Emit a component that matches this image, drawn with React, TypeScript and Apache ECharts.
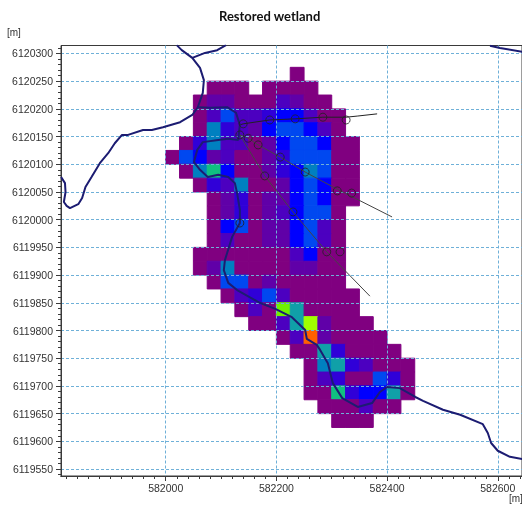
import React, { useEffect, useRef } from "react";
import * as echarts from "echarts";

const titleText = "Restored wetland";
const unitText = "[m]";

const xMin = 581810.8;
const xMax = 582643.8;
const yMin = 6119537.4;
const yMax = 6120314.4;

const xTicks = [582000, 582200, 582400, 582600];
const yTicks = [
  6119550, 6119600, 6119650, 6119700, 6119750, 6119800, 6119850, 6119900,
  6119950, 6120000, 6120050, 6120100, 6120150, 6120200, 6120250, 6120300,
];
const xMinorStep = 20;
const yMinorStep = 10;

const cellSize = 25;

// top edge of each raster row (metres north)
const rowTops = [
  6120275, 6120250, 6120225, 6120200, 6120175, 6120150, 6120125, 6120100,
  6120075, 6120050, 6120025, 6120000, 6119975, 6119950, 6119925, 6119900,
  6119875, 6119850, 6119825, 6119800, 6119775, 6119750, 6119725, 6119700,
  6119675, 6119650,
];
// left edge of the first cell in each row (metres east)
const rowStarts = [
  582225, 582075, 582050, 582050, 582050, 582025, 582000, 582025,
  582050, 582075, 582075, 582075, 582075, 582050, 582050, 582075,
  582100, 582125, 582150, 582200, 582225, 582250, 582250, 582250,
  582275, 582300,
];
// colour class of each cell, 0 = lowest
const rowLevels: (number | null)[][] = [
  [0],
  [0, 0, 0, null, 0, 0, 0, 0],
  [0, 1, 1, 0, 0, 0, 2, 1, 0, 0],
  [0, 2, 5, 2, 2, 3, 4, 4, 2, 0, 0],
  [0, 6, 3, 2, 1, 4, 5, 5, 4, 2, 0],
  [0, 3, 6, 2, 2, 0, 1, 4, 5, 5, 4, 0, 0],
  [0, 5, 4, 1, 2, 0, 0, 1, 3, 5, 5, 5, 0, 0],
  [0, 6, 8, 4, 0, 0, 1, 3, 4, 6, 5, 0, 0],
  [0, 3, 2, 6, 0, 0, 1, 4, 5, 4, 0, 0],
  [0, 1, 3, 0, 1, 1, 4, 5, 4, 0, 0],
  [0, 1, 3, 0, 1, 2, 4, 5, 5, 0],
  [0, 4, 5, 0, 1, 1, 4, 5, 2, 0],
  [0, 2, 0, 0, 1, 1, 4, 5, 2, 0],
  [0, 0, 0, 0, 0, 0, 0, 2, 4, 0, 0],
  [0, 1, 6, 0, 0, 0, 0, 1, 1, 0, 0],
  [0, 5, 5, 0, 1, 0, 0, 0, 0, 0],
  [0, 2, 3, 5, 2, 0, 0, 0, 0, 0],
  [0, 2, 0, 9, 7, 0, 0, 0, 0],
  [0, 0, 2, 7, 10, 1, 0, 0, 0],
  [0, 2, 11, 1, 0, 0, 0, 0],
  [0, 0, 7, 3, 0, 0, 0, 0],
  [0, 6, 7, 3, 2, 0, 0, 0],
  [0, 2, 3, 0, 0, 5, 3, 0],
  [0, 0, 8, 3, 4, 4, 7, 0],
  [0, 0, 0, 2, 0, 0],
  [0, 0, 0],
];
const levelColors = [
  "#800080", "#6000a8", "#4c00c0", "#3000d8", "#0000ff", "#0048f0",
  "#0080c0", "#10a0a8", "#10c080", "#70f000", "#a0ff00", "#ff6000",
];

const riverWest = [
  [581811, 6120077], [581818, 6120066], [581819, 6120050], [581816, 6120032],
  [581821, 6120025], [581827, 6120021], [581842, 6120028], [581849, 6120039],
  [581855, 6120059], [581866, 6120077], [581881, 6120102], [581896, 6120120],
  [581908, 6120138], [581921, 6120153], [581932, 6120153], [581959, 6120162],
  [581975, 6120162], [581995, 6120167], [582026, 6120176], [582048, 6120189],
  [582058, 6120203], [582067, 6120229], [582069, 6120252], [582062, 6120274],
  [582048, 6120292], [582029, 6120306], [582020, 6120315],
];
const riverTopBranch = [
  [582048, 6120292], [582071, 6120301], [582093, 6120306], [582109, 6120315],
];
const riverTopRight = [
  [582586, 6120314], [582604, 6120310], [582644, 6120303],
];
const riverMain = [
  [582058, 6120203], [582080, 6120202], [582111, 6120203], [582127, 6120193],
  [582134, 6120171], [582131, 6120144], [582113, 6120146], [582095, 6120144],
  [582067, 6120140], [582057, 6120126], [582051, 6120104], [582062, 6120090],
  [582076, 6120077], [582095, 6120081], [582113, 6120077], [582125, 6120066],
  [582129, 6120048], [582134, 6120018], [582134, 6119994], [582120, 6119969],
  [582107, 6119927], [582105, 6119909], [582113, 6119886], [582129, 6119873],
  [582170, 6119850], [582198, 6119839], [582228, 6119824], [582252, 6119801],
  [582255, 6119785], [582273, 6119774], [582279, 6119765], [582293, 6119741],
  [582302, 6119705], [582319, 6119678], [582347, 6119662], [582373, 6119669],
  [582387, 6119689], [582400, 6119698], [582423, 6119696], [582451, 6119680],
  [582465, 6119673], [582501, 6119657], [582532, 6119648], [582573, 6119631],
  [582582, 6119615], [582588, 6119597], [582600, 6119583], [582622, 6119572],
  [582644, 6119568],
];
const transectNorth = [
  [582134, 6120171], [582140, 6120173], [582188, 6120180], [582234, 6120182],
  [582284, 6120185], [582326, 6120185], [582346, 6120187], [582382, 6120191],
];
const transectMiddle = [
  [582134, 6120153], [582149, 6120147], [582167, 6120135], [582207, 6120113],
  [582252, 6120086], [582310, 6120055], [582409, 6120005],
];
const transectSouth = [
  [582134, 6120153], [582179, 6120079], [582230, 6120014], [582291, 6119942],
  [582369, 6119862],
];
const stations = [
  [582140, 6120173], [582188, 6120180], [582234, 6120182], [582284, 6120185],
  [582326, 6120180], [582134, 6120153], [582149, 6120147], [582167, 6120135],
  [582207, 6120113], [582252, 6120086], [582310, 6120052], [582336, 6120048],
  [582179, 6120079], [582230, 6120014], [582291, 6119942], [582315, 6119942],
  [582134, 6119994],
];

const steps = (from: number, to: number, step: number) => {
  const out: number[] = [];
  for (let v = from; v <= to; v += step) out.push(v);
  return out;
};

const cellData: number[][] = [];
rowTops.forEach((top, r) => {
  rowLevels[r].forEach((level, i) => {
    if (level !== null) {
      cellData.push([rowStarts[r] + cellSize * i, top, level]);
    }
  });
});

const labelFont = { fontFamily: "Liberation Sans", fontSize: 10.5, color: "#333" };
const axisColor = "#3a3a3a";
const gridLine = { show: true, lineStyle: { color: "#6fb0d8", width: 1, type: [3, 2] as number[] } };

const riverSeries = (data: number[][]) => ({
  type: "line", data, showSymbol: false, z: 7, silent: true,
  lineStyle: { color: "#1c1c72", width: 2 },
});
const transectSeries = (data: number[][], color: string) => ({
  type: "line", data, showSymbol: false, z: 6, silent: true,
  lineStyle: { color, width: 1 },
});

export default function App() {
  const ref = useRef<HTMLDivElement>(null);
  useEffect(() => {
    document.body.style.margin = "0";
    const chart = echarts.init(ref.current!, null, { renderer: "svg" });
    chart.setOption({
      animation: false,
      backgroundColor: "#fff",
      grid: {
        left: 61, right: 0, top: 45.5, bottom: 34,
        show: true, borderColor: axisColor, borderWidth: 1,
      },
      xAxis: [
        {
          type: "value", min: xMin, max: xMax, position: "bottom", z: 5,
          axisLine: { show: true, onZero: false, lineStyle: { color: axisColor } },
          axisTick: { show: true, length: 5, customValues: xTicks, lineStyle: { color: axisColor } },
          axisLabel: { ...labelFont, margin: 6, customValues: xTicks, formatter: (v: number) => String(v) },
          splitLine: gridLine,
        },
        {
          type: "value", min: xMin, max: xMax, position: "bottom", z: 5,
          axisLine: { show: true, onZero: false, lineStyle: { color: axisColor } },
          axisTick: { show: true, length: 3, customValues: steps(581820, 582640, xMinorStep), lineStyle: { color: axisColor } },
          axisLabel: { show: false },
          splitLine: { show: false },
        },
      ],
      yAxis: [
        {
          type: "value", min: yMin, max: yMax, position: "left", z: 5,
          axisLine: { show: true, onZero: false, lineStyle: { color: axisColor } },
          axisTick: { show: true, length: 5, customValues: yTicks, lineStyle: { color: axisColor } },
          axisLabel: { ...labelFont, margin: 8, customValues: yTicks, formatter: (v: number) => String(v) },
          splitLine: gridLine,
        },
        {
          type: "value", min: yMin, max: yMax, position: "left", z: 5,
          axisLine: { show: true, onZero: false, lineStyle: { color: axisColor } },
          axisTick: { show: true, length: 3, customValues: steps(6119540, 6120310, yMinorStep), lineStyle: { color: axisColor } },
          axisLabel: { show: false },
          splitLine: { show: false },
        },
      ],
      graphic: [
        {
          type: "text", left: 219, top: 9, z: 20,
          style: { text: titleText, font: "bold 13px Lato", fill: "#111" },
        },
        {
          type: "text", left: 7, top: 27, z: 20,
          style: { text: unitText, font: "10px 'Liberation Sans'", fill: "#333" },
        },
        {
          type: "text", left: 509, top: 493, z: 20,
          style: { text: unitText, font: "10px 'Liberation Sans'", fill: "#333" },
        },
      ],
      series: [
        {
          type: "custom", data: cellData, z: 2, silent: true, clip: true,
          encode: { x: 0, y: 1 },
          renderItem: (_p: any, api: any) => {
            const a = api.coord([api.value(0), api.value(1)]);
            const b = api.coord([api.value(0) + cellSize, api.value(1) - cellSize]);
            return {
              type: "rect",
              shape: { x: a[0], y: a[1], width: b[0] - a[0], height: b[1] - a[1] },
              style: { fill: levelColors[api.value(2)], stroke: levelColors[api.value(2)], lineWidth: 1 },
            };
          },
        },
        transectSeries(transectNorth, "#222"),
        transectSeries(transectMiddle, "#444"),
        transectSeries(transectSouth, "#444"),
        riverSeries(riverWest),
        riverSeries(riverTopBranch),
        riverSeries(riverTopRight),
        riverSeries(riverMain),
        {
          type: "scatter", data: stations, symbol: "circle", symbolSize: 8, z: 8, silent: true,
          itemStyle: { color: "rgba(0,0,0,0)", borderColor: "#222", borderWidth: 1 },
        },
      ],
    });
    return () => chart.dispose();
  }, []);
  return <div ref={ref} style={{ width: 522, height: 510, filter: "blur(0.4px)" }} />;
}
